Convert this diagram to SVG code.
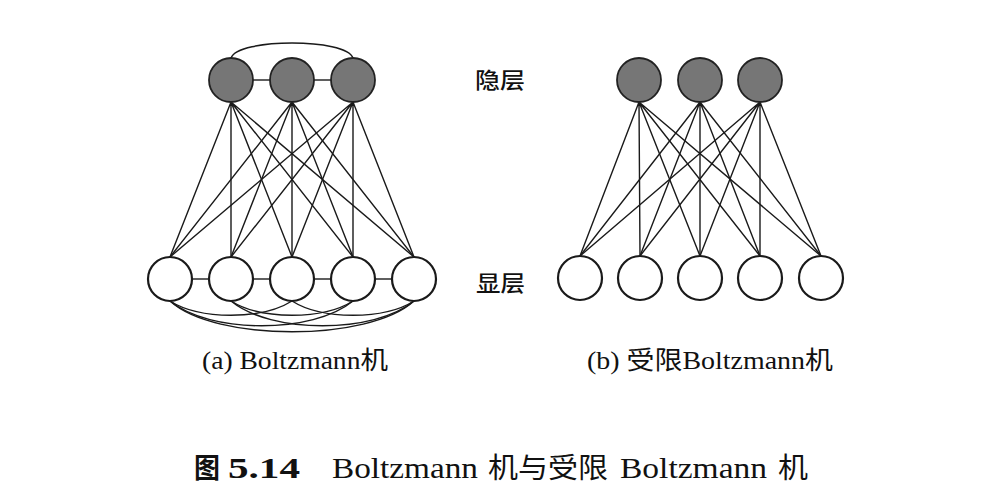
<svg xmlns="http://www.w3.org/2000/svg" width="990" height="504" viewBox="0 0 990 504">
<style>
.hid{fill:#767676;stroke:#222222;stroke-width:1.8}
.vis{fill:#ffffff;stroke:#1a1a1a;stroke-width:2.2}
.edge{fill:none;stroke:#1a1a1a;stroke-width:1.4}
.lat{font-family:"Liberation Serif","Times New Roman",serif;fill:#111}
.cjk{font-family:"Noto Sans CJK SC","Noto Sans CJK JP",sans-serif;fill:#111}
</style>
<rect width="990" height="504" fill="#ffffff"/>
<g id="connectors">
  <path class="edge" d="M231,58 C238,38 346,38 353,58"/>
  <line class="edge" x1="253" y1="80" x2="270" y2="80"/>
  <line class="edge" x1="314" y1="80" x2="331" y2="80"/>
  <line class="edge" x1="192" y1="279" x2="209" y2="279"/>
  <line class="edge" x1="253" y1="279" x2="270" y2="279"/>
  <line class="edge" x1="314" y1="279" x2="331" y2="279"/>
  <line class="edge" x1="375" y1="279" x2="392" y2="279"/>
  <path class="edge" d="M170,301 C200,320 262,320 292,301"/>
  <path class="edge" d="M231,301 C261,320 323,320 353,301"/>
  <path class="edge" d="M292,301 C322,320 384,320 414,301"/>
  <path class="edge" d="M170,301 C210,334 313,334 353,301"/>
  <path class="edge" d="M231,301 C271,334 374,334 414,301"/>
  <path class="edge" d="M170,301 C215,342 369,342 414,301"/>
  <path class="edge" d="M231,102 L170,257 M231,102 L231,257 M231,102 L292,257 M231,102 L353,257 M231,102 L414,257"/>
  <path class="edge" d="M292,102 L170,257 M292,102 L231,257 M292,102 L292,257 M292,102 L353,257 M292,102 L414,257"/>
  <path class="edge" d="M353,102 L170,257 M353,102 L231,257 M353,102 L292,257 M353,102 L353,257 M353,102 L414,257"/>
  <path class="edge" d="M639,102 L580,256 M639,102 L640,256 M639,102 L700,256 M639,102 L760,256 M639,102 L821,256"/>
  <path class="edge" d="M700,102 L580,256 M700,102 L640,256 M700,102 L700,256 M700,102 L760,256 M700,102 L821,256"/>
  <path class="edge" d="M760,102 L580,256 M760,102 L640,256 M760,102 L700,256 M760,102 L760,256 M760,102 L821,256"/>
</g>
<g id="a-h1"><circle class="hid" cx="231" cy="80" r="22"/></g>
<g id="a-h2"><circle class="hid" cx="292" cy="80" r="22"/></g>
<g id="a-h3"><circle class="hid" cx="353" cy="80" r="22"/></g>
<g id="a-v1"><circle class="vis" cx="170" cy="279" r="22"/></g>
<g id="a-v2"><circle class="vis" cx="231" cy="279" r="22"/></g>
<g id="a-v3"><circle class="vis" cx="292" cy="279" r="22"/></g>
<g id="a-v4"><circle class="vis" cx="353" cy="279" r="22"/></g>
<g id="a-v5"><circle class="vis" cx="414" cy="279" r="22"/></g>
<g id="b-h1"><circle class="hid" cx="639" cy="80" r="22"/></g>
<g id="b-h2"><circle class="hid" cx="700" cy="80" r="22"/></g>
<g id="b-h3"><circle class="hid" cx="760" cy="80" r="22"/></g>
<g id="b-v1"><circle class="vis" cx="580" cy="278" r="22"/></g>
<g id="b-v2"><circle class="vis" cx="640" cy="278" r="22"/></g>
<g id="b-v3"><circle class="vis" cx="700" cy="278" r="22"/></g>
<g id="b-v4"><circle class="vis" cx="760" cy="278" r="22"/></g>
<g id="b-v5"><circle class="vis" cx="821" cy="278" r="22"/></g>
<g id="labels">
  <text class="cjk" x="475" y="88" font-size="22" font-weight="500" textLength="50" lengthAdjust="spacingAndGlyphs">隐层</text>
  <text class="cjk" x="476" y="291" font-size="22" font-weight="500" textLength="49" lengthAdjust="spacingAndGlyphs">显层</text>
  <text class="lat" x="202" y="369" font-size="25" textLength="186" lengthAdjust="spacingAndGlyphs">(a) Boltzmann<tspan class="cjk">机</tspan></text>
  <text class="lat" x="587" y="369" font-size="25" textLength="246" lengthAdjust="spacingAndGlyphs">(b) <tspan class="cjk">受限</tspan>Boltzmann<tspan class="cjk">机</tspan></text>
</g>
<g id="caption">
  <text class="cjk" x="194" y="478" font-size="28" font-weight="bold" textLength="26" lengthAdjust="spacingAndGlyphs">图</text>
  <text class="lat" x="228" y="478" font-size="29" font-weight="bold" textLength="72" lengthAdjust="spacingAndGlyphs">5.14</text>
  <text class="lat" x="332" y="478" font-size="29" textLength="146" lengthAdjust="spacingAndGlyphs">Boltzmann</text>
  <text class="cjk" x="488" y="478" font-size="28" textLength="120" lengthAdjust="spacingAndGlyphs">机与受限</text>
  <text class="lat" x="620" y="478" font-size="29" textLength="147" lengthAdjust="spacingAndGlyphs">Boltzmann</text>
  <text class="cjk" x="778" y="478" font-size="28" textLength="30" lengthAdjust="spacingAndGlyphs">机</text>
</g>
</svg>
